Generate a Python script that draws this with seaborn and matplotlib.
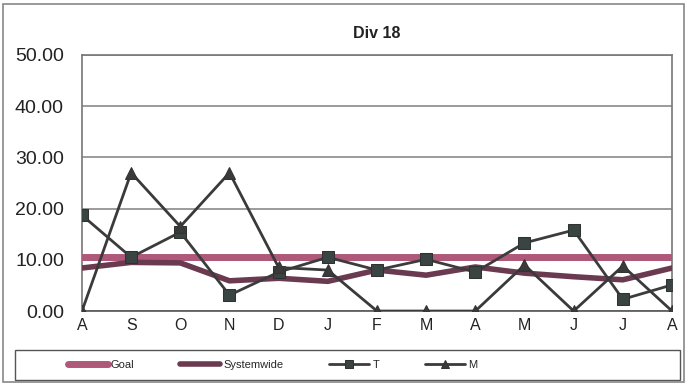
import matplotlib
matplotlib.use("Agg")
import matplotlib.pyplot as plt
from matplotlib.patches import Rectangle
import numpy as np
import pandas as pd
import seaborn as sns

months = ["A", "S", "O", "N", "D", "J", "F", "M", "A", "M", "J", "J", "A"]
goal = [10.5] * 13
systemwide = [8.4, 9.5, 9.4, 5.9, 6.4, 5.8, 8.0, 7.0, 8.6, 7.4, 6.7, 6.1, 8.4]
t_vals = [18.7, 10.5, 15.4, 3.1, 7.6, 10.5, 8.0, 10.1, 7.6, 13.3, 15.8, 2.3, 5.1]
m_vals = [0.0, 27.0, 16.5, 27.0, 8.5, 8.0, 0.0, 0.0, 0.0, 9.0, 0.0, 8.8, 0.0]
y_ticks = [0, 10, 20, 30, 40, 50]

sns.set_theme(style="white")
plt.rcParams["font.family"] = ["Liberation Sans", "DejaVu Sans"]

fig = plt.figure(figsize=(6.86, 3.84), dpi=100)
ax = fig.add_axes([0.1195, 0.190, 0.8601, 0.667])

pos = np.arange(len(months))
df = pd.DataFrame({"pos": pos, "Goal": goal, "Systemwide": systemwide,
                   "T": t_vals, "M": m_vals})

sns.lineplot(data=df, x="pos", y="Goal", ax=ax, color="#b0587a", lw=5,
             label="Goal", zorder=3)
sns.lineplot(data=df, x="pos", y="Systemwide", ax=ax, color="#6a3a50", lw=4,
             label="Systemwide", zorder=3)
sns.lineplot(data=df, x="pos", y="T", ax=ax, color="#3c3c3c", lw=2,
             marker="s", markersize=9, markerfacecolor="#3a4442",
             markeredgecolor="#2e3332", label="T", zorder=4)
sns.lineplot(data=df, x="pos", y="M", ax=ax, color="#3a3a3a", lw=2,
             marker="^", markersize=9, markerfacecolor="#3a3a3a",
             markeredgecolor="#333333", label="M", zorder=4)

ax.set_xlim(0, len(months) - 1)
ax.set_ylim(0, 50)
ax.set_yticks(y_ticks)
ax.set_yticklabels([f"{v:.2f}" for v in y_ticks], fontsize=14, color="#222222")
ax.set_xticks(pos)
ax.set_xticklabels(months, fontsize=11.5, color="#222222")
ax.set_xlabel("")
ax.set_ylabel("")
ax.yaxis.grid(True, color="#8a8a8a", lw=1.2)
ax.set_axisbelow(True)
for side in ["left", "right", "top", "bottom"]:
    ax.spines[side].set_visible(True)
    ax.spines[side].set_color("#777777")
    ax.spines[side].set_linewidth(1.2)
ax.spines["bottom"].set_color("#555555")
ax.tick_params(axis="y", direction="out", length=5, width=1, color="#666666", pad=8)
ax.tick_params(axis="x", direction="out", length=0, pad=5)

ax.set_title("Div 18", fontsize=11.5, fontweight="bold", color="#222222", pad=12)

# legend entries sit in the left part of a full-width boxed strip
handles, labels = ax.get_legend_handles_labels()
ax.legend(handles, labels, ncol=4, loc="center",
          bbox_to_anchor=(0.397, 0.05), bbox_transform=fig.transFigure,
          frameon=False, fontsize=8, handlelength=3.6, handletextpad=0.3,
          columnspacing=4.1, markerscale=0.7)
fig.patches.append(Rectangle((0.022, 0.0104), 0.969, 0.0786, transform=fig.transFigure,
                             fill=False, edgecolor="#555555", lw=1.0))

fig.patches.append(Rectangle((0.005, 0.005), 0.992, 0.985, transform=fig.transFigure,
                             fill=False, edgecolor="#888888", lw=1.2))

fig.savefig("out.png", dpi=100, facecolor="white")
